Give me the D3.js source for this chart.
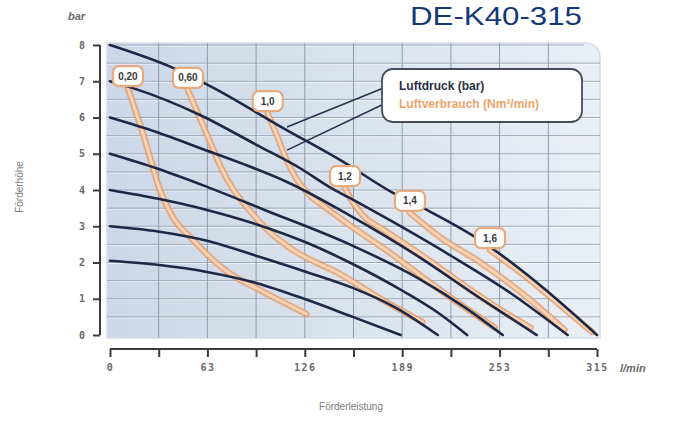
<!DOCTYPE html>
<html>
<head>
<meta charset="utf-8">
<script src="https://cdn.jsdelivr.net/npm/d3@7"></script>
<style>
  html, body { margin: 0; padding: 0; background: #ffffff; }
  svg { display: block; }
</style>
</head>
<body>
<svg id="chart" width="688" height="429"></svg>
<script>
// Pump performance chart DE-K40-315: delivery head vs. flow rate

const title = "DE-K40-315";
const xTicksMinor = [0, 31.5, 63, 94.5, 126, 157.5, 189, 220.5, 252, 283.5, 315];
const xTickValues = [0, 63, 126, 189, 252, 315];
const xTickLabels = ["0", "63", "126", "189", "253", "315"];
const yTickValues = [0, 1, 2, 3, 4, 5, 6, 7, 8];
const yGridValues = [0.5, 1, 1.5, 2, 2.5, 3, 3.5, 4, 4.5, 5, 5.5, 6, 6.5, 7, 7.5, 8];

// Air pressure curves (bar): [flow l/min, head bar]
const pressure8 = [[0,8],[40.7,7.37],[66,6.84],[112,5.71],[148.8,4.83],[183,3.92],[205,3.45],[239.3,2.62],[278,1.38],[315,0]];
const pressure7 = [[0,7],[14.9,6.81],[58.2,6.07],[95,5.24],[123,4.6],[142,4.08],[155,3.78],[220,2.2],[259,1.16],[296,0]];
const pressure6 = [[0,6],[30,5.6],[58,5.16],[86,4.72],[114.5,4.22],[155,3.3],[200,2.15],[240,1.0],[276,0]];
const pressure5 = [[0,5],[30,4.6],[62,4.1],[100,3.45],[155,2.5],[200,1.55],[230,0.75],[254,0]];
const pressure4 = [[0,4],[32,3.75],[62.7,3.45],[95,3.05],[127,2.55],[155,2.0],[190,1.2],[212,0.62],[231,0]];
const pressure3 = [[0,3],[32,2.85],[62.7,2.6],[95,2.18],[127,1.74],[157,1.3],[185,0.75],[212,0]];
const pressure2 = [[0,2.05],[32,1.93],[62.7,1.74],[95,1.43],[127.4,0.97],[157,0.5],[188,0]];
const pressureSeries = [pressure8, pressure7, pressure6, pressure5, pressure4, pressure3, pressure2];

// Air consumption curves (Nm³/min)
const consumptionLabels = ["0,20", "0,60", "1,0", "1,2", "1,4", "1,6"];
const consumption020 = [[11.6,6.81],[22.6,5.38],[32.3,4.0],[40,3.3],[53.7,2.62],[75.7,1.75],[97,1.24],[127,0.58]];
const consumption060 = [[50.4,6.76],[58,6.0],[65,5.3],[72,4.6],[80,4.0],[90,3.45],[103,2.85],[120,2.3],[148,1.7],[175,1.0],[202,0.36]];
const consumption10 = [[102,6.12],[108,5.5],[114,4.85],[120,4.35],[128,3.9],[140,3.5],[155,3.03],[180,2.3],[210,1.35],[235,0.6],[249,0.2]];
const consumption12 = [[152,4.05],[158,3.6],[166,3.2],[175,2.95],[200,2.25],[233,1.25],[260,0.5],[272,0.2]];
const consumption14 = [[194,3.37],[213.4,2.7],[239.3,2.01],[271.7,0.97],[294,0.14]];
const consumption16 = [[245.8,2.34],[265,1.74],[291,0.83],[311.8,0.08]];
const consumptionSeries = [consumption020, consumption060, consumption10, consumption12, consumption14, consumption16];

// Legend leader lines, in data units
const leaderPressure = [[178.5,6.84],[114.5,5.74]];
const leaderConsumption = [[178.5,6.4],[114.5,5.1]];

const svg = d3.select("#chart");
const x = d3.scaleLinear().domain([0, 315]).range([110, 597]);
const y = d3.scaleLinear().domain([0, 8]).range([335, 45]);

const defs = svg.append("defs");
const bg = defs.append("linearGradient").attr("id", "plotBg").attr("x1", "0").attr("x2", "1").attr("y1", "0").attr("y2", "0");
bg.append("stop").attr("offset", "0").attr("stop-color", "#ccd8e8");
bg.append("stop").attr("offset", "0.6").attr("stop-color", "#dde5ef");
bg.append("stop").attr("offset", "1").attr("stop-color", "#eaeff5");

// Plot background with rounded top-right corner
const px0 = x(0) - 3, px1 = x(315) + 3, py0 = y(8) - 2, py1 = y(0) + 3, r = 16;
svg.append("path")
  .attr("d", `M${px0},${py0} H${px1 - r} Q${px1},${py0} ${px1},${py0 + r} V${py1} H${px0} Z`)
  .attr("fill", "url(#plotBg)")
  .attr("stroke", "#d6dde6")
  .attr("stroke-width", 1.5);

// Grid
const grid = svg.append("g");
yGridValues.forEach(v => {
  grid.append("line").attr("x1", px0).attr("x2", px1 - (v === 8 ? r : 0)).attr("y1", y(v) + 1).attr("y2", y(v) + 1)
    .attr("stroke", "#ffffff").attr("stroke-opacity", 0.6).attr("stroke-width", 1);
  grid.append("line").attr("x1", px0).attr("x2", px1 - (v === 8 ? r : 0)).attr("y1", y(v)).attr("y2", y(v))
    .attr("stroke", "#9ea9b9").attr("stroke-width", 1);
});
xTicksMinor.slice(1, -1).forEach(v => {
  grid.append("line").attr("x1", x(v)).attr("x2", x(v)).attr("y1", py0).attr("y2", py1)
    .attr("stroke", "#8f9bae").attr("stroke-width", 1);
});

const line = d3.line().x(d => x(d[0])).y(d => y(d[1])).curve(d3.curveMonotoneX);

// Air consumption curves: peach band with darker orange edges
const cons = svg.append("g");
consumptionSeries.forEach(s => {
  cons.append("path").attr("d", line(s)).attr("fill", "none")
    .attr("stroke", "#e59a66").attr("stroke-width", 6.5).attr("stroke-linecap", "round").attr("stroke-opacity", 0.8);
  cons.append("path").attr("d", line(s)).attr("fill", "none")
    .attr("stroke", "#f7d3b4").attr("stroke-width", 3).attr("stroke-linecap", "round");
});

// Air pressure curves
const pres = svg.append("g");
pressureSeries.forEach(s => {
  pres.append("path").attr("d", line(s)).attr("fill", "none")
    .attr("stroke", "#1d2846").attr("stroke-width", 2.6).attr("stroke-linecap", "round");
});

// Leader lines from the legend
[leaderPressure, leaderConsumption].forEach(l => {
  svg.append("line")
    .attr("x1", x(l[0][0])).attr("y1", y(l[0][1]))
    .attr("x2", x(l[1][0])).attr("y2", y(l[1][1]))
    .attr("stroke", "#27324f").attr("stroke-width", 1.6);
});

// Consumption value tags at the start of each curve
const tags = svg.append("g");
consumptionSeries.forEach((s, i) => {
  const cx = x(s[0][0]), cy = y(s[0][1]) - 12;
  tags.append("rect").attr("x", cx - 15).attr("y", cy - 10).attr("width", 30).attr("height", 20).attr("rx", 6)
    .attr("fill", "#ffffff").attr("stroke", "#e8a97c").attr("stroke-width", 2.2);
  tags.append("text").attr("x", cx).attr("y", cy + 3.5).attr("text-anchor", "middle")
    .attr("font-family", "Liberation Sans Narrow, Arial Narrow, sans-serif").attr("font-weight", "bold")
    .attr("font-size", 10).attr("fill", "#3a3a3a").text(consumptionLabels[i]);
});

// Legend
const lg = svg.append("g");
lg.append("rect").attr("x", 382).attr("y", 69).attr("width", 200).attr("height", 53).attr("rx", 11)
  .attr("fill", "#ffffff").attr("stroke", "#464c5c").attr("stroke-width", 1.8);
lg.append("text").attr("x", 399).attr("y", 90)
  .attr("font-family", "Liberation Sans Narrow, Arial Narrow, sans-serif").attr("font-weight", "bold")
  .attr("font-size", 12).attr("fill", "#2a2e42").text("Luftdruck (bar)");
lg.append("text").attr("x", 399).attr("y", 108)
  .attr("font-family", "Liberation Sans Narrow, Arial Narrow, sans-serif").attr("font-weight", "bold")
  .attr("font-size", 12).attr("fill", "#f0a468").text("Luftverbrauch (Nm³/min)");

// Axes
const tickFont = "DejaVu Sans Mono, monospace";
const yAxis = svg.append("g").attr("transform", `translate(100,0)`)
  .call(d3.axisLeft(y).tickValues(yTickValues).tickSize(7).tickPadding(8).tickFormat(d3.format("d")));
yAxis.select(".domain").attr("stroke", "#3c3c3c").attr("stroke-width", 2).attr("d", `M0,${y(8)}V${y(0)}`);
yAxis.selectAll(".tick line").attr("stroke", "#3c3c3c").attr("stroke-width", 2);
yAxis.selectAll(".tick text").attr("font-family", tickFont).attr("font-size", 10).attr("font-weight", "bold").attr("fill", "#666");

const xAxis = svg.append("g").attr("transform", `translate(0,349)`)
  .call(d3.axisBottom(x).tickValues(xTicksMinor).tickSize(8).tickPadding(7).tickFormat(() => ""));
xAxis.select(".domain").attr("stroke", "#3c3c3c").attr("stroke-width", 2).attr("d", `M${x(0)},0H${x(315)}`);
xAxis.selectAll(".tick line").attr("stroke", "#3c3c3c").attr("stroke-width", 2);
const xLabels = svg.append("g").attr("transform", `translate(0,349)`)
  .call(d3.axisBottom(x).tickValues(xTickValues).tickSize(0).tickPadding(15).tickFormat((d, i) => xTickLabels[i]));
xLabels.select(".domain").remove();
xLabels.selectAll(".tick text").attr("font-family", tickFont).attr("font-size", 10).attr("font-weight", "bold")
  .attr("fill", "#6a6a6a").attr("letter-spacing", 1.5);

// Axis titles
svg.append("text").attr("x", 68).attr("y", 20).attr("font-family", "Liberation Sans, Arial, sans-serif")
  .attr("font-style", "italic").attr("font-weight", "bold").attr("font-size", 11).attr("fill", "#6a6a6a").text("bar");
svg.append("text").attr("x", 620).attr("y", 372).attr("font-family", "Liberation Sans, Arial, sans-serif")
  .attr("font-style", "italic").attr("font-weight", "bold").attr("font-size", 11).attr("fill", "#6a6a6a").text("l/min");
svg.append("text").attr("transform", "translate(23,187) rotate(-90)").attr("text-anchor", "middle")
  .attr("font-family", "Liberation Sans Narrow, Arial Narrow, sans-serif").attr("font-size", 10).attr("fill", "#7a7a7a")
  .text("Förderhöhe");
svg.append("text").attr("x", 351).attr("y", 410).attr("text-anchor", "middle")
  .attr("font-family", "Liberation Sans Narrow, Arial Narrow, sans-serif").attr("font-size", 10).attr("fill", "#7a7a7a")
  .text("Förderleistung");

// Title
svg.append("text").attr("x", 410).attr("y", 25)
  .attr("font-family", "Liberation Sans, Arial, sans-serif").attr("font-size", 25).attr("fill", "#14397a")
  .attr("textLength", 172).attr("lengthAdjust", "spacingAndGlyphs").text(title);
</script>
</body>
</html>
